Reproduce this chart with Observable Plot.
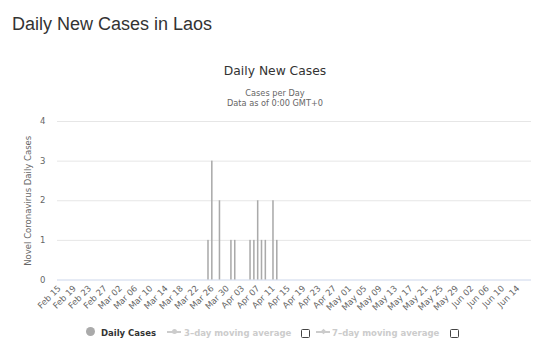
<!DOCTYPE html>
<html>
<head>
<meta charset="utf-8">
<script src="https://cdn.jsdelivr.net/npm/d3@7"></script>
<script src="https://cdn.jsdelivr.net/npm/@observablehq/plot@0.6"></script>
<style>
  html, body { margin: 0; padding: 0; background: #fff; }
  #wrap { position: relative; width: 542px; height: 352px; overflow: hidden; }
  .t { position: absolute; white-space: nowrap; line-height: 1; }
  #chart { position: absolute; left: 0; top: 110px; }
</style>
</head>
<body>
<div id="wrap">
  <div class="t" style="left:12px;top:14px;font:18px 'Liberation Sans',Arial,sans-serif;color:#333;">Daily New Cases in Laos</div>
  <div class="t" style="left:0;width:542px;text-align:center;padding-left:8px;box-sizing:border-box;top:63.6px;font:12.3px 'DejaVu Sans',sans-serif;color:#333;">Daily New Cases</div>
  <div class="t" style="left:0;width:542px;text-align:center;padding-left:8px;box-sizing:border-box;top:88.1px;font:8.2px 'DejaVu Sans',sans-serif;color:#666;">Cases per Day</div>
  <div class="t" style="left:0;width:542px;text-align:center;padding-left:8px;box-sizing:border-box;top:98.4px;font:8.2px 'DejaVu Sans',sans-serif;color:#666;">Data as of 0:00 GMT+0</div>
  <div id="chart"></div>
  <!-- legend -->
  <div style="position:absolute;left:85.5px;top:327px;width:9px;height:9px;border-radius:50%;background:#aaa;"></div>
  <div class="t" style="left:101px;top:328px;font:bold 8.5px 'DejaVu Sans',sans-serif;color:#333;">Daily Cases</div>
  <div style="position:absolute;left:167px;top:331px;width:14px;height:1.5px;background:#ccc;"></div>
  <div style="position:absolute;left:171.5px;top:329px;width:5px;height:5px;border-radius:50%;background:#ccc;"></div>
  <div class="t" style="left:184px;top:328px;font:bold 8.5px 'DejaVu Sans',sans-serif;color:#ccc;">3–day moving average</div>
  <div style="position:absolute;left:301px;top:328.5px;width:7px;height:7px;border:1px solid #444;border-radius:1.5px;"></div>
  <div style="position:absolute;left:316px;top:331px;width:14px;height:1.5px;background:#ccc;"></div>
  <div style="position:absolute;left:320.5px;top:329px;width:5px;height:5px;background:#ccc;transform:rotate(45deg) scale(0.8);"></div>
  <div class="t" style="left:332px;top:328px;font:bold 8.5px 'DejaVu Sans',sans-serif;color:#ccc;">7–day moving average</div>
  <div style="position:absolute;left:450px;top:328.5px;width:7px;height:7px;border:1px solid #444;border-radius:1.5px;"></div>
</div>
<script>
// Category range (one category per day)
const firstDay = "2020-02-15";
const lastDay = "2020-06-17";
// Days with new cases (all other days: 0)
const caseDates = ["2020-03-25","2020-03-26","2020-03-28","2020-03-31","2020-04-01","2020-04-05","2020-04-06","2020-04-07","2020-04-08","2020-04-09","2020-04-11","2020-04-12"];
const caseValues = [1, 3, 2, 1, 1, 1, 1, 2, 1, 1, 2, 1];
const yTicks = [0, 1, 2, 3, 4];
const tickEvery = 4;

const fmtKey = d3.utcFormat("%Y-%m-%d");
const parseKey = d3.utcParse("%Y-%m-%d");
const fmtLabel = d3.utcFormat("%b %d");

const dates = d3.utcDay.range(parseKey(firstDay), d3.utcDay.offset(parseKey(lastDay), 1)).map(fmtKey);
const caseMap = new Map(caseDates.map((d, i) => [d, caseValues[i]]));
const data = dates.map(d => ({date: d, value: caseMap.get(d) ?? 0}));
const xTicks = dates.filter((d, i) => i % tickEvery === 0);

const chart = Plot.plot({
  width: 542,
  height: 205,
  marginTop: 11,
  marginBottom: 35.5,
  marginLeft: 57,
  marginRight: 11,
  style: {fontFamily: "'DejaVu Sans', sans-serif", fontSize: "8.5px", color: "#666", background: "transparent"},
  x: {type: "band", domain: dates, paddingInner: 0.6, paddingOuter: 0.3, align: 0.5},
  y: {domain: [0, 4]},
  marks: [
    Plot.gridY(yTicks.filter(t => t > 0), {stroke: "#e6e6e6", strokeOpacity: 1}),
    Plot.ruleY([0], {stroke: "#ccd6eb"}),
    Plot.barY(data.filter(d => d.value > 0), {x: "date", y: "value", fill: "#aaa"}),
    Plot.axisX({ticks: xTicks, tickFormat: d => fmtLabel(parseKey(d)), tickRotate: -45, tickSize: 0, tickPadding: 7, label: null, fill: "#666"}),
    Plot.axisY({ticks: yTicks, tickFormat: d3.format("d"), tickSize: 0, tickPadding: 12, label: "Novel Coronavirus Daily Cases", labelAnchor: "center", labelArrow: "none", labelOffset: 33, fill: "#666"})
  ]
});
document.getElementById("chart").appendChild(chart);
</script>
</body>
</html>
